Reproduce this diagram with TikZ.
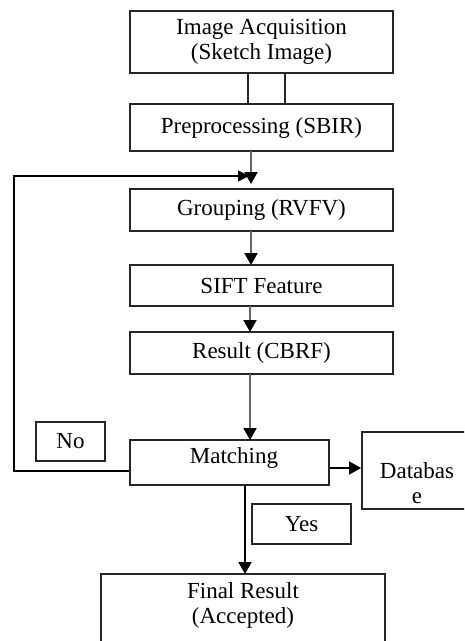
\documentclass[tikz,border=0pt]{standalone}
\usepackage{fontspec}
\setmainfont{Liberation Serif}
\usetikzlibrary{arrows.meta}
\begin{document}
\begin{tikzpicture}[x=1pt,y=-1pt,
  box/.style={draw=black!85, line width=1.8pt, inner sep=0pt, align=center, font=\fontsize{23}{25}\selectfont},
  txt/.style={inner sep=0pt, align=center, font=\fontsize{23}{25}\selectfont},
  flow/.style={draw=black!60, line width=2pt, -{Triangle[length=12pt,width=13pt,color=black]}},
  back/.style={draw=black, line width=1.4pt}]
\useasboundingbox (0,0) rectangle (464,641);
\clip (0,0) rectangle (464,641);
\node[box, minimum width=263, minimum height=62] (acq) at (261.5,42) {Image Acquisition\\(Sketch Image)};
\node[box, minimum width=37, minimum height=30] (sq) at (266.7,88.5) {};
\node[box, minimum width=263, minimum height=47] (pre) at (261.5,127.5) {Preprocessing (SBIR)};
\node[box, minimum width=263, minimum height=42] (grp) at (261.5,210) {Grouping (RVFV)};
\node[box, minimum width=263, minimum height=41] (sift) at (261.5,285.5) {SIFT Feature};
\node[box, minimum width=263, minimum height=42] (res) at (261.5,353) {Result (CBRF)};
\node[box, minimum width=199, minimum height=45] (mat) at (229.5,462.5) {};
\node[txt] (mattxt) at (234,458) {Matching};
\node[box, minimum width=108, minimum height=77] (db) at (416,470.5) {};
\node[txt] (dbtxt) at (417,483) {Databas\\e};
\node[box, minimum width=69, minimum height=39] (no) at (70.5,441.5) {No};
\node[box, minimum width=99, minimum height=40] (yes) at (301.5,524) {Yes};
\node[box, minimum width=284, minimum height=90] (fin) at (243,619) {};
\node[txt] (fintxt) at (243,605.5) {Final Result\\(Accepted)};
% connectors
\coordinate (p1) at (251,151);
\coordinate (p2) at (251,184);
\draw[flow] (p1) -- (p2);
\coordinate (g1) at (251,231);
\coordinate (g2) at (251,265);
\draw[flow] (g1) -- (g2);
\coordinate (s1) at (250,306);
\coordinate (s2) at (250,332);
\draw[flow] (s1) -- (s2);
\coordinate (r1) at (250,374);
\coordinate (r2) at (250,440);
\draw[flow] (r1) -- (r2);
\coordinate (m1) at (245,485);
\coordinate (m2) at (245,574);
\draw[flow, draw=black] (m1) -- (m2);
\draw[flow, draw=black, line width=1.5pt] (mat.east |- 0,468) -- (db.west |- 0,468);
\coordinate (fbL) at (14,471);
\coordinate (fbT) at (16,176);
\coordinate (fbE) at (249,176);
\draw[back] (mat.west |- fbL) -- (fbL) -- (14,176) -- (16,176);
\draw[back, -{Triangle[length=11pt,width=11pt]}] (fbT) -- (fbE);
\end{tikzpicture}
\end{document}
